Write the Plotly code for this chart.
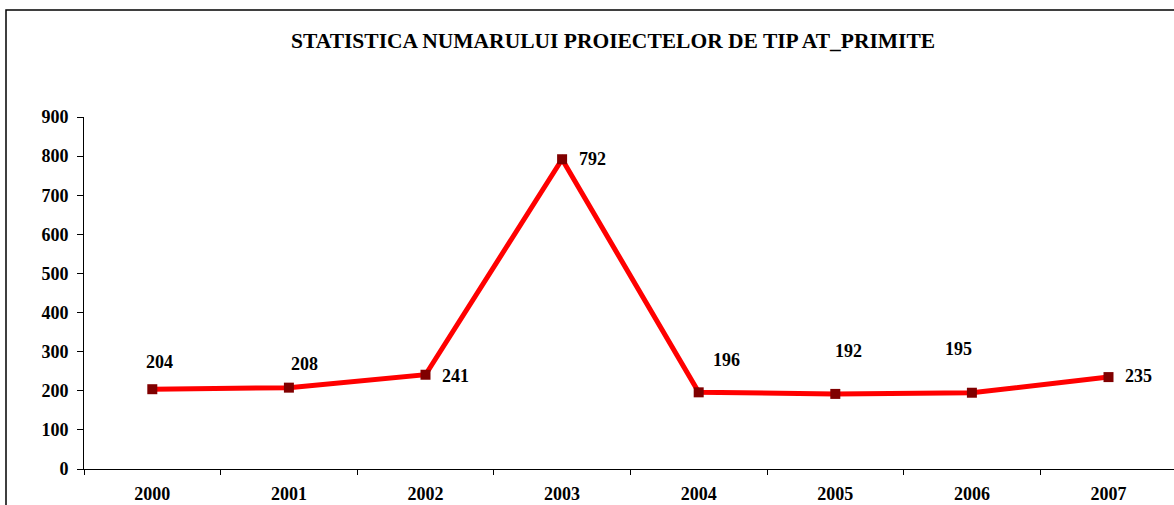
import plotly.graph_objects as go

years = ["2000", "2001", "2002", "2003", "2004", "2005", "2006", "2007"]
values = [204, 208, 241, 792, 196, 192, 195, 235]
y_ticks = [0, 100, 200, 300, 400, 500, 600, 700, 800, 900]
title_text = "STATISTICA NUMARULUI PROIECTELOR DE TIP AT_PRIMITE"

# label offsets in pixels (style only): right, down
label_dx = [7, 16, 30, 30, 28, 13, -13, 30]
label_dy = [-27, -24, 1, 0, -32, -43, -44, -1]

FONT = "Liberation Serif, Times New Roman, serif"

W, H = 1174, 505
L, R, T, B = 84, 0, 117, 36
pw, ph = W - L - R, H - T - B
def px(xp):
    return (xp - L) / pw
def py(yp):
    return (H - B - yp) / ph

fig = go.Figure()
fig.add_trace(go.Scatter(
    x=years, y=values, mode="lines+markers",
    line=dict(color="#FF0000", width=5),
    marker=dict(symbol="square", size=10, color="#800000"),
    hoverinfo="x+y", showlegend=False,
))

for i, (v, dx, dy) in enumerate(zip(values, label_dx, label_dy)):
    fig.add_annotation(
        x=i, y=v, text=f"<b>{v}</b>", showarrow=False,
        xshift=dx, yshift=-dy, xref="x", yref="y",
        xanchor="center", yanchor="middle",
        font=dict(family=FONT, size=18, color="black"),
    )

fig.add_annotation(
    x=px(613), y=py(41), xref="paper", yref="paper", text=f"<b>{title_text}</b>",
    showarrow=False, xanchor="center", yanchor="middle",
    font=dict(family=FONT, size=21.5, color="black"),
)

fig.add_shape(type="rect", xref="paper", yref="paper",
              x0=px(6), x1=px(1180), y0=py(10), y1=py(512),
              line=dict(color="black", width=1.5), fillcolor="rgba(0,0,0,0)", layer="above")

fig.update_layout(
    width=W, height=H,
    margin=dict(l=L, r=R, t=T, b=B, autoexpand=False),
    paper_bgcolor="white", plot_bgcolor="white",
    font=dict(family=FONT, size=18, color="black"),
    xaxis=dict(
        type="category", range=[-0.5, -0.5 + pw / 136.6],
        showline=True, linecolor="black", linewidth=1,
        ticks="outside", tickson="boundaries", ticklen=5, tickcolor="black",
        showgrid=False, zeroline=False,
        tickfont=dict(family=FONT, size=18, color="black"),
        tickprefix="<b>", ticksuffix="</b>",
        ticklabelstandoff=8,
        automargin=False,
    ),
    yaxis=dict(
        range=[0, 900], tickvals=y_ticks,
        ticktext=[f"<b>{t}</b>" for t in y_ticks],
        showline=True, linecolor="black", linewidth=1,
        ticks="outside", ticklen=6, tickcolor="black",
        showgrid=False, zeroline=False,
        tickfont=dict(family=FONT, size=18, color="black"),
        ticklabelstandoff=5,
        automargin=False,
    ),
)

fig.write_html("out.html", config={"displayModeBar": False},
               post_script="document.body.style.margin='0';document.body.style.overflow='hidden';")
